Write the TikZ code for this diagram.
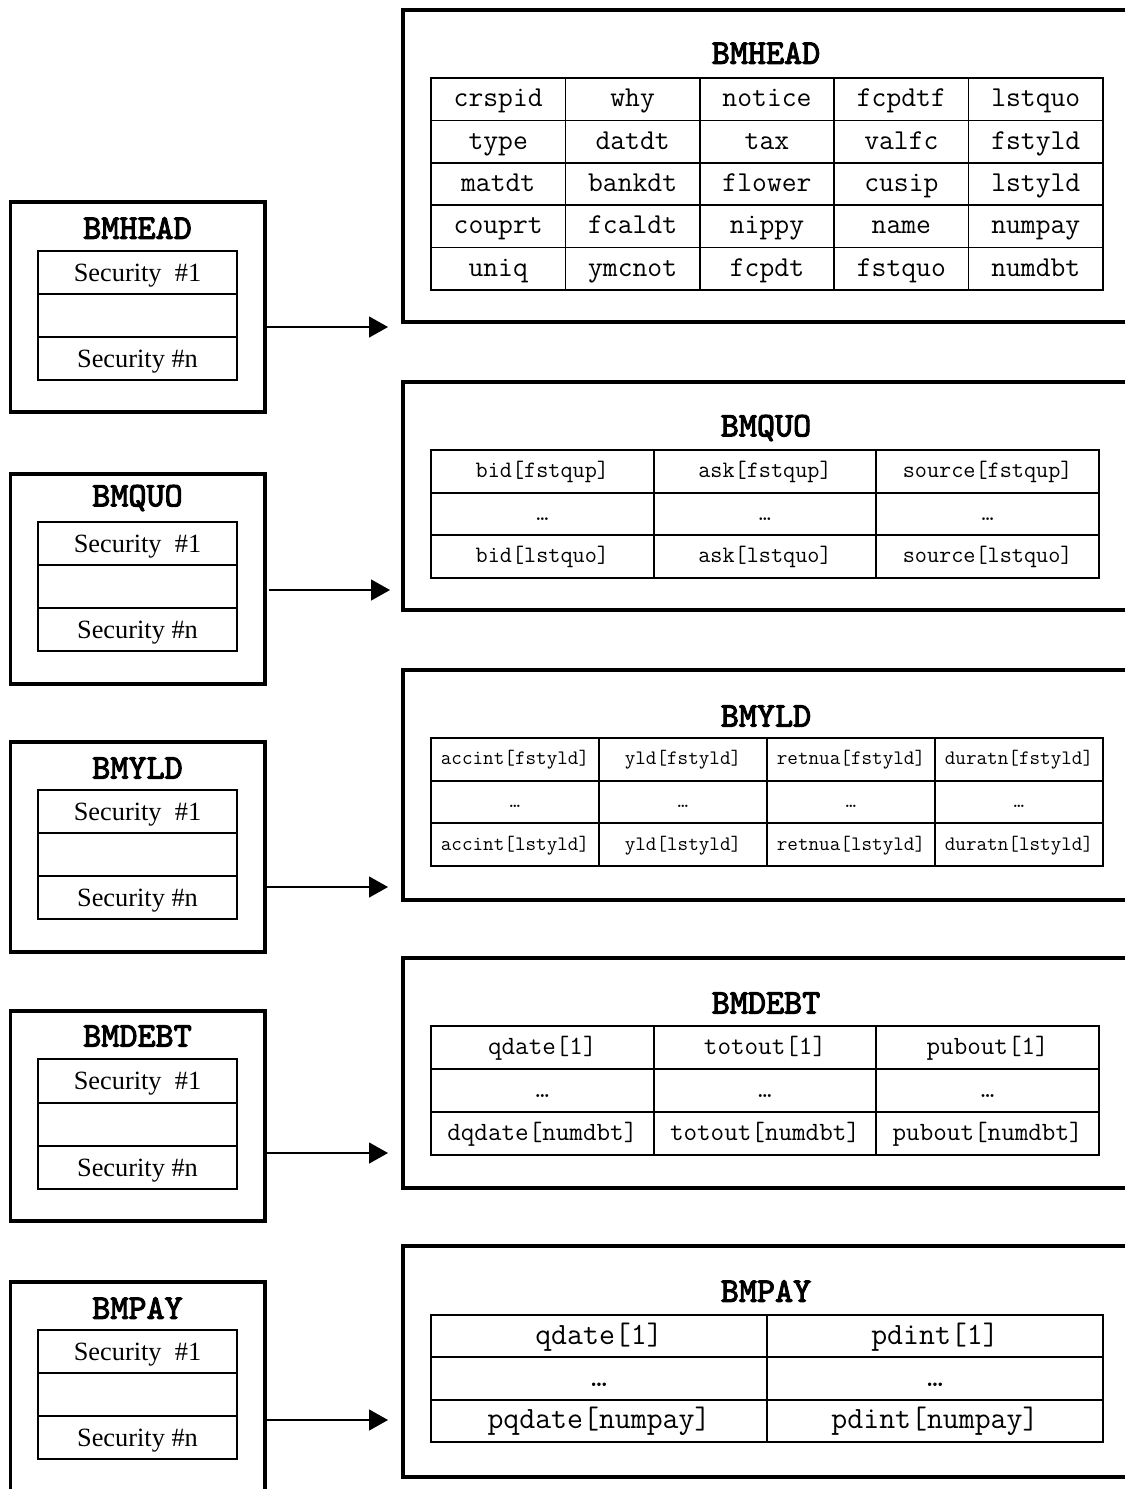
\documentclass[tikz,border=0pt]{standalone}
\usepackage{fontspec}
\setmainfont{Liberation Serif}
\newfontfamily\ttlfont{lmmono10-regular.otf}[FakeBold=3]
\usetikzlibrary{arrows.meta}

\begin{document}
\begin{tikzpicture}[x=0.02cm,y=-0.02cm,
  outer/.style={line width=2.2pt},
  grid/.style={line width=1pt},
  ttl/.style={font=\fontsize{19.6}{22}\selectfont\ttlfont},
  sec/.style={font=\fontsize{15}{18}\selectfont,text height=12pt,text depth=2pt,inner sep=0pt},
  cell/.style 2 args={font=\fontsize{#1}{#1}\selectfont\ttfamily,text height=#2,text depth=2pt,inner sep=0pt},
  link/.style={line width=0.8pt,-{Triangle[length=0.38cm,width=0.42cm]}}]

\useasboundingbox (0,0) rectangle (1125,1489);
\clip (0,0) rectangle (1125,1489);

\begin{scope}[shift={(0,202)}]
\draw[outer] (10.5,0) rectangle (265,210);
\node[ttl] (lhead) at (137.5,26) {BMHEAD};
\draw[grid] (38,49) rectangle (237,178);
\draw[grid] (38,92) -- (237,92) (38,135) -- (237,135);
\node[sec] (lhead1) at (137.5,70.5) {Security\ \ \#1};
\node[sec] (lheadn) at (137.5,156.5) {Security \#n};
\coordinate (headout) at (263,125);
\end{scope}

\begin{scope}[shift={(0,474)}]
\draw[outer] (10.5,0) rectangle (265,210);
\node[ttl] (lquo) at (137.5,24) {BMQUO};
\draw[grid] (38,48) rectangle (237,177);
\draw[grid] (38,91) -- (237,91) (38,134) -- (237,134);
\node[sec] (lquo1) at (137.5,69.5) {Security\ \ \#1};
\node[sec] (lquon) at (137.5,155.5) {Security \#n};
\coordinate (quoout) at (269,116);
\end{scope}

\begin{scope}[shift={(0,742)}]
\draw[outer] (10.5,0) rectangle (265,210);
\node[ttl] (lyld) at (137.5,26) {BMYLD};
\draw[grid] (38,48) rectangle (237,177);
\draw[grid] (38,91) -- (237,91) (38,134) -- (237,134);
\node[sec] (lyld1) at (137.5,69.5) {Security\ \ \#1};
\node[sec] (lyldn) at (137.5,155.5) {Security \#n};
\coordinate (yldout) at (265,145);
\end{scope}

\begin{scope}[shift={(0,1011)}]
\draw[outer] (10.5,0) rectangle (265,210);
\node[ttl] (ldebt) at (137.5,25) {BMDEBT};
\draw[grid] (38,48) rectangle (237,178);
\draw[grid] (38,92) -- (237,92) (38,135) -- (237,135);
\node[sec] (ldebt1) at (137.5,70) {Security\ \ \#1};
\node[sec] (ldebtn) at (137.5,156.5) {Security \#n};
\coordinate (debtout) at (267,142);
\end{scope}

\begin{scope}[shift={(0,1282)}]
\draw[outer] (10.5,0) rectangle (265,210);
\node[ttl] (lpay) at (137.5,26) {BMPAY};
\draw[grid] (38,48) rectangle (237,177);
\draw[grid] (38,91) -- (237,91) (38,134) -- (237,134);
\node[sec] (lpay1) at (137.5,69.5) {Security\ \ \#1};
\node[sec] (lpayn) at (137.5,155.5) {Security \#n};
\coordinate (payout) at (265,138);
\end{scope}

% BMHEAD fields
\draw[outer] (403,10) rectangle (1140,322);
\node[ttl] (rhead) at (766,53) {BMHEAD};
\draw[grid] (431,78) rectangle (1103,290);
\foreach \i in {1,...,4}
  \draw[grid] ({431+134.4*\i},78) -- ++(0,212) (431,{78+42.4*\i}) -- ++(672,0);
\foreach \txt [count=\k from 0] in {crspid,why,notice,fcpdtf,lstquo,type,datdt,tax,valfc,fstyld,matdt,bankdt,flower,cusip,lstyld,couprt,fcaldt,nippy,name,numpay,uniq,ymcnot,fcpdt,fstquo,numdbt}{
  \pgfmathtruncatemacro\c{mod(\k,5)}
  \pgfmathtruncatemacro\r{div(\k,5)}
  \node[cell={16.4}{10.5pt}] (head-\k) at ({431+134.4*(\c+0.5)},{78+42.4*(\r+0.5)}) {\txt};
}
\coordinate (headin) at (388,327);

% BMQUO fields
\draw[outer] (403,382) rectangle (1140,610);
\node[ttl] (rquo) at (766,428) {BMQUO};
\draw[grid] (431,450) rectangle (1099,578);
\foreach \i in {1,2}
  \draw[grid] ({431+222.67*\i},450) -- ++(0,128) (431,{450+42.67*\i}) -- ++(668,0);
\foreach \txt [count=\k from 0] in {bid[fstqup],ask[fstqup],source[fstqup],…,…,…,bid[lstquo],ask[lstquo],source[lstquo]}{
  \pgfmathtruncatemacro\c{mod(\k,3)}
  \pgfmathtruncatemacro\r{div(\k,3)}
  \node[cell={13.4}{9pt}] (quo-\k) at ({431+222.67*(\c+0.5)},{450+42.67*(\r+0.5)}) {\txt};
}
\coordinate (quoin) at (390,590);

% BMYLD fields
\draw[outer] (403,670) rectangle (1140,900);
\node[ttl] (ryld) at (766,716) {BMYLD};
\draw[grid] (431,738) rectangle (1103,866);
\foreach \i in {1,2,3}
  \draw[grid] ({431+168*\i},738) -- ++(0,128);
\foreach \i in {1,2}
  \draw[grid] (431,{738+42.67*\i}) -- ++(672,0);
\foreach \txt [count=\k from 0] in {accint[fstyld],yld[fstyld],retnua[fstyld],duratn[fstyld],…,…,…,…,accint[lstyld],yld[lstyld],retnua[lstyld],duratn[lstyld]}{
  \pgfmathtruncatemacro\c{mod(\k,4)}
  \pgfmathtruncatemacro\r{div(\k,4)}
  \node[cell={11.7}{8.1pt}] (yld-\k) at ({431+168*(\c+0.5)},{738+42.67*(\r+0.5)}) {\txt};
}
\coordinate (yldin) at (388,887);

% BMDEBT fields
\draw[outer] (403,958) rectangle (1140,1188);
\node[ttl] (rdebt) at (766,1003) {BMDEBT};
\draw[grid] (431,1026) rectangle (1099,1155);
\foreach \i in {1,2}
  \draw[grid] ({431+222.67*\i},1026) -- ++(0,129) (431,{1026+43*\i}) -- ++(668,0);
\foreach \txt [count=\k from 0] in {qdate[1],totout[1],pubout[1],…,…,…,dqdate[numdbt],totout[numdbt],pubout[numdbt]}{
  \pgfmathtruncatemacro\c{mod(\k,3)}
  \pgfmathtruncatemacro\r{div(\k,3)}
  \node[cell={15}{9.8pt}] (debt-\k) at ({431+222.67*(\c+0.5)},{1026+43*(\r+0.5)}) {\txt};
}
\coordinate (debtin) at (388,1153);

% BMPAY fields
\draw[outer] (403,1246) rectangle (1140,1477);
\node[ttl] (rpay) at (766,1291) {BMPAY};
\draw[grid] (431,1315) rectangle (1103,1442);
\draw[grid] (767,1315) -- (767,1442);
\foreach \i in {1,2}
  \draw[grid] (431,{1315+42.33*\i}) -- ++(672,0);
\foreach \txt [count=\k from 0] in {qdate[1],pdint[1],…,…,pqdate[numpay],pdint[numpay]}{
  \pgfmathtruncatemacro\c{mod(\k,2)}
  \pgfmathtruncatemacro\r{div(\k,2)}
  \node[cell={17.6}{11.2pt}] (pay-\k) at ({431+336*(\c+0.5)},{1315+42.33*(\r+0.5)}) {\txt};
}
\coordinate (payin) at (388,1420);

\draw[link] (headout) -- (headin);
\draw[link] (quoout) -- (quoin);
\draw[link] (yldout) -- (yldin);
\draw[link] (debtout) -- (debtin);
\draw[link] (payout) -- (payin);

\end{tikzpicture}
\end{document}
